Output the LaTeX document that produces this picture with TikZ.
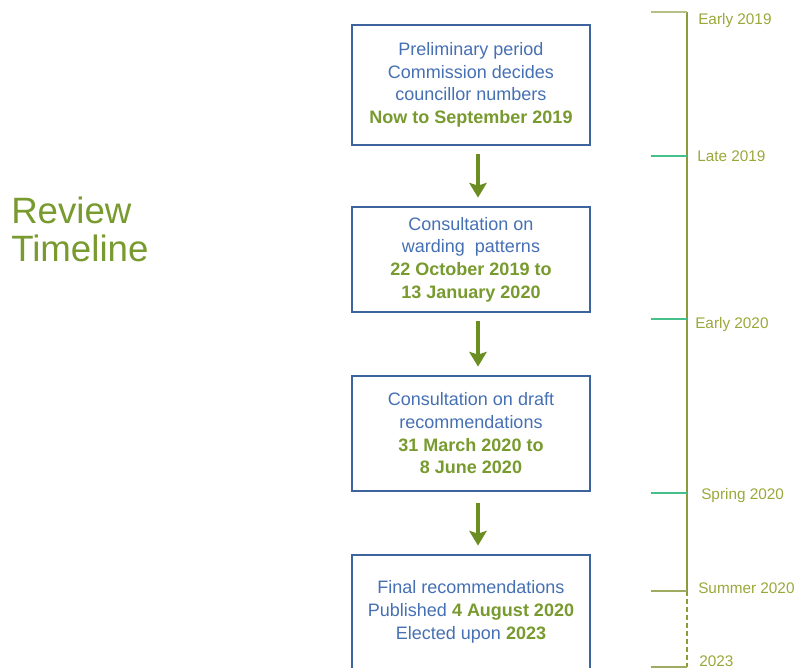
\documentclass[tikz,border=0pt]{standalone}
\usepackage{fontspec}
\setmainfont{Liberation Sans}
\usepackage{xcolor}
\usepackage{tikz}
\usetikzlibrary{positioning, arrows.meta, calc}
\definecolor{boxblue}{HTML}{3E64A0}
\definecolor{txtblue}{HTML}{4670B4}
\definecolor{dategreen}{HTML}{789A2E}
\definecolor{arrowgreen}{HTML}{6B8E23}
\definecolor{axisolive}{HTML}{8C9A3C}
\definecolor{tickmint}{HTML}{45C08A}
\definecolor{ticklight}{HTML}{B8C088}
\definecolor{tickolive}{HTML}{A0AA60}
\definecolor{lblolive}{HTML}{9AA83A}
\newcommand{\dt}[1]{\textbf{\color{dategreen}#1}}
\tikzset{
  box/.style   ={draw=boxblue, line width=2.1pt, align=center, inner sep=0pt,
                 minimum width=178.5pt, text=txtblue,
                 font=\fontsize{13.5}{17}\selectfont, fill=white},
  flow/.style  ={-{Stealth[length=11pt, width=13pt, inset=2pt]},
                 line width=3pt, draw=arrowgreen},
  axis/.style  ={draw=axisolive, line width=1.1pt},
  tick/.style  ={line width=1.5pt},
  lbl/.style   ={anchor=base west, inner sep=0pt, text=lblolive,
                 font=\fontsize{11.5}{13}\selectfont},
}

\begin{document}
\begin{tikzpicture}[x=0.75pt, y=-0.75pt]
  \useasboundingbox (0,0) rectangle (797,668);
  \node[anchor=west, inner sep=0pt, align=left, text=dategreen,
        font=\fontsize{27.5}{28.5}\selectfont] (title) at (11,229) {Review\\Timeline};
  % stages
  \node[box, minimum height=90pt]    (prelim) at (471,85)    {Preliminary period\\Commission decides\\councillor numbers\\\dt{Now to September 2019}};
  \node[box, minimum height=78.75pt] (warding) at (471,259.5) {Consultation on\\warding\ \ patterns\\\dt{22 October 2019 to}\\\dt{13 January 2020}};
  \node[box, minimum height=86.25pt] (draft) at (471,433.5)  {Consultation on draft\\recommendations\\\dt{31 March 2020 to}\\\dt{8 June 2020}};
  \node[box, minimum height=85.5pt]  (final) at (471,612)    {Final recommendations\\Published \dt{4 August 2020}\\Elected upon \dt{2023}};
  \draw[flow] ([xshift=5.25pt, yshift=-6pt]prelim.south)  -- ([xshift=5.25pt, yshift=6pt]warding.north);
  \draw[flow] ([xshift=5.25pt, yshift=-6pt]warding.south) -- ([xshift=5.25pt, yshift=6pt]draft.north);
  \draw[flow] ([xshift=5.25pt, yshift=-8pt]draft.south)   -- ([xshift=5.25pt, yshift=6pt]final.north);
  % timeline
  \coordinate (e19) at (687,12);
  \coordinate (l19) at (687,156);
  \coordinate (e20) at (687,319);
  \coordinate (s20) at (687,493);
  \coordinate (m20) at (687,591);
  \coordinate (y23) at (687,667);
  \draw[axis] (e19) -- (m20);
  \draw[axis, dash pattern=on 3.75pt off 2.25pt] (m20) -- (y23);
  \draw[tick, draw=ticklight] (e19) -- ++(-36,0);
  \draw[tick, draw=tickmint]  (l19) -- ++(-36,0);
  \draw[tick, draw=tickmint]  (e20) -- ++(-36,0);
  \draw[tick, draw=tickmint]  (s20) -- ++(-36,0);
  \draw[tick, draw=tickolive] (m20) -- ++(-36,0);
  \draw[tick, draw=tickolive] (y23) -- ++(-36,0);
  \node[lbl] (le19) at (698,24)  {Early 2019};
  \node[lbl] (ll19) at (697,161) {Late 2019};
  \node[lbl] (le20) at (695,328) {Early 2020};
  \node[lbl] (ls20) at (701,499) {Spring 2020};
  \node[lbl] (lm20) at (698,593) {Summer 2020};
  \node[lbl] (ly23) at (699,666) {2023};
\end{tikzpicture}
\end{document}
